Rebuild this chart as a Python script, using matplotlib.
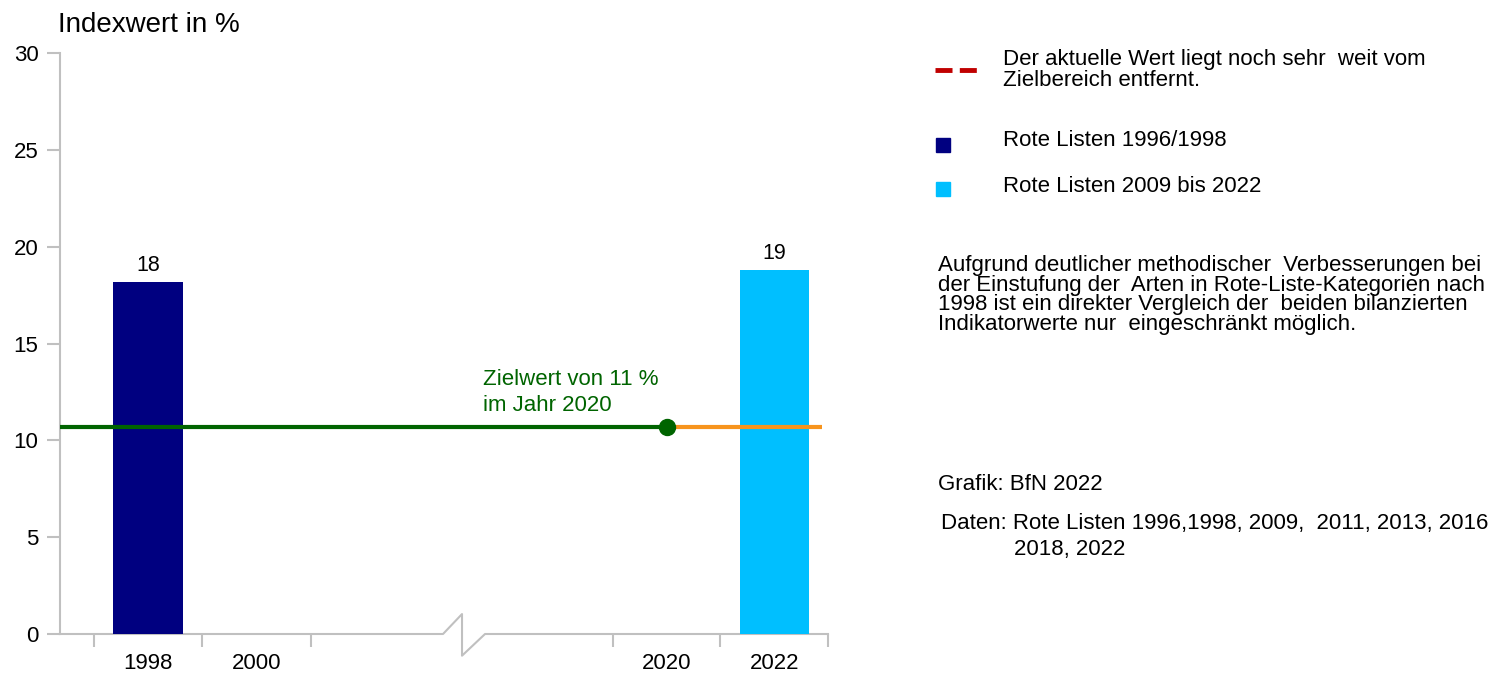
import matplotlib
matplotlib.use("Agg")
import matplotlib.pyplot as plt

plt.rcParams['font.family'] = ['Liberation Sans', 'DejaVu Sans']

# data
years = ["1998", "2000", "2020", "2022"]
year_pos = [0.5, 1.5, 5.28, 6.27]
bar_years = ["1998", "2022"]
bar_values = [18.2, 18.8]
bar_labels = ["18", "19"]
bar_colors = ["#000080", "#00BFFF"]
target_value = 10.7
y_ticks = [0, 5, 10, 15, 20, 25, 30]
x_bounds = [0, 1, 2, 4.78, 5.77, 6.765]

W, H = 1499, 673
fs = 16
fig = plt.figure(figsize=(W / 100, H / 100), dpi=100)
ax = fig.add_axes([60 / W, 39 / H, 768 / W, 581 / H])

gray = "#c0c0c0"
xmin, xmax = -0.313, 6.765

for yr, v, lab, c in zip(bar_years, bar_values, bar_labels, bar_colors):
    x = year_pos[years.index(yr)]
    ax.bar(x, v, width=0.64, color=c, zorder=2)
    ax.text(x, v + 0.3, lab, ha="center", va="bottom", fontsize=fs - 0.5)

# target line
x2020 = year_pos[years.index("2020")]
ax.plot([xmin, x2020], [target_value, target_value], color="#006400", lw=3, zorder=3, solid_capstyle="butt")
ax.plot([x2020, 6.71], [target_value, target_value], color="#F7941D", lw=3, zorder=3, solid_capstyle="butt")
ax.plot([x2020], [target_value], "o", color="#006400", ms=11.5, zorder=4)
ax.text(3.59, 11.25, "Zielwert von 11 %\nim Jahr 2020", color="#006400", fontsize=fs,
        ha="left", va="bottom", linespacing=1.3)

ax.set_xlim(xmin, xmax)
ax.set_ylim(0, 30)

for s in ["top", "right", "bottom"]:
    ax.spines[s].set_visible(False)
ax.spines["left"].set_color(gray)
ax.spines["left"].set_linewidth(1.5)

# bottom axis with break
bx = [xmin, 3.217, 3.392, 3.392, 3.604, xmax]
by = [0, 0, 1.03, -1.12, 0, 0]
ax.plot(bx, by, color=gray, lw=1.5, clip_on=False, zorder=1)

ax.set_yticks(y_ticks)
ax.tick_params(axis="y", length=9.5, width=1.5, color=gray, pad=6, labelsize=fs)

ax.set_xticks(x_bounds)
ax.set_xticklabels([])
ax.tick_params(axis="x", which="major", length=9, width=1.5, color=gray)
ax.set_xticks(year_pos, minor=True)
ax.set_xticklabels(years, minor=True)
ax.tick_params(axis="x", which="minor", length=0, pad=14, labelsize=fs)

fig.text(58 / W, 1 - 25 / H, "Indexwert in %", fontsize=20, ha="left", va="center")

# legend
def fx(p):
    return p / W

def fy(p):
    return 1 - p / H

fig.add_artist(plt.Line2D([fx(935), fx(980)], [fy(70), fy(70)], color="#C00000", lw=3.5,
                          dashes=(3.5, 1.5)))
fig.text(fx(1003), fy(70), "Der aktuelle Wert liegt noch sehr  weit vom\nZielbereich entfernt.",
         fontsize=fs, ha="left", va="center", linespacing=1.0)
fig.add_artist(plt.Rectangle((fx(936), fy(152)), 14 / W, 14 / H, color="#000080", transform=fig.transFigure))
fig.text(fx(1003), fy(141), "Rote Listen 1996/1998", fontsize=fs, ha="left", va="center")
fig.add_artist(plt.Rectangle((fx(936), fy(196)), 14 / W, 14 / H, color="#00BFFF", transform=fig.transFigure))
fig.text(fx(1003), fy(187), "Rote Listen 2009 bis 2022", fontsize=fs, ha="left", va="center")

note = ("Aufgrund deutlicher methodischer  Verbesserungen bei\n"
        "der Einstufung der  Arten in Rote-Liste-Kategorien nach\n"
        "1998 ist ein direkter Vergleich der  beiden bilanzierten\n"
        "Indikatorwerte nur  eingeschränkt möglich.")
fig.text(fx(938), fy(295), note, fontsize=fs, ha="left", va="center", linespacing=0.93)

fig.text(fx(938), fy(485), "Grafik: BfN 2022", fontsize=fs, ha="left", va="center")
fig.text(fx(941), fy(523), "Daten: Rote Listen 1996,1998, 2009,  2011, 2013, 2016", fontsize=fs,
         ha="left", va="center")
fig.text(fx(1014), fy(549), "2018, 2022", fontsize=fs, ha="left", va="center")

fig.savefig("out.png", dpi=100)
